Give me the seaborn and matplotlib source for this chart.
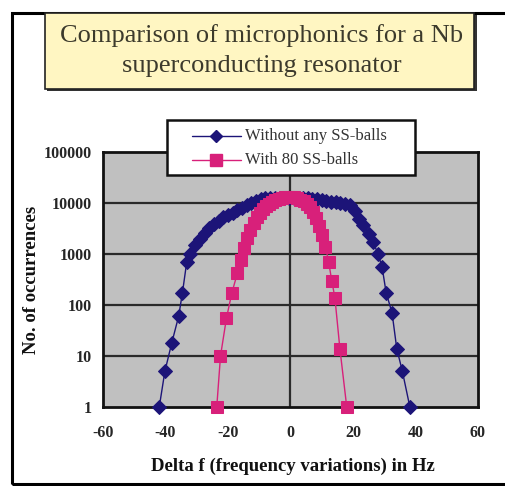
import matplotlib
matplotlib.use("Agg")
import matplotlib.pyplot as plt
import seaborn as sns
import pandas as pd
from matplotlib.patches import Rectangle
from matplotlib.lines import Line2D

# ---------------- data ----------------
title_lines = ["Comparison of microphonics for a Nb", "superconducting resonator"]
x_label = "Delta f (frequency variations) in Hz"
y_label = "No. of occurrences"
series_names = ["Without any SS-balls", "With 80 SS-balls"]

without_df = [-42.0, -40.2, -38.0, -35.8, -34.6, -33.2, -32.0, -30.5, -29.0, -27.5,
              -26.0, -24.5, -23.0, -21.5, -20.0, -18.5, -17.0, -15.5, -14.0, -12.5,
              -11.0, -9.5, -8.0, -6.5, -5.0, -3.5, -2.0, -0.5, 1.0, 2.5, 4.0, 5.5,
              7.0, 8.5, 10.0, 11.5, 13.0, 14.5, 16.0, 17.5, 19.0, 20.5, 22.0, 23.3,
              25.0, 26.5, 28.0, 29.3, 30.6, 32.5, 34.0, 35.8, 38.2]
without_n = [1, 5, 18, 60, 170, 700, 1000, 1500, 2000, 2600,
             3200, 3900, 4500, 5200, 5800, 6500, 7300, 8100, 9000, 10000,
             11000, 12000, 12500, 12800, 12800, 12800, 12800, 12800, 12800, 12800, 12600, 12400,
             12200, 12000, 11500, 11000, 10700, 10300, 10000, 9700, 9000, 7000, 4800, 3700,
             2500, 1700, 1000, 560, 175, 70, 14, 5, 1]

with_df = [-23.6, -22.4, -20.5, -18.8, -17.0, -15.8, -14.8, -13.8, -12.8, -11.8,
           -10.8, -9.8, -8.8, -7.8, -6.8, -5.8, -4.8, -3.8, -2.8, -1.8, -0.8, 0.2,
           1.2, 2.2, 3.2, 4.2, 5.2, 6.2, 7.2, 8.2, 9.2, 10.2, 11.2, 12.2, 13.2,
           14.2, 15.8, 18.0]
with_n = [1, 10, 55, 170, 420, 750, 1300, 2100, 3000, 4100,
          5200, 6400, 7600, 8700, 9700, 10600, 11400, 12000, 12500, 12900, 13100, 13100,
          12900, 12400, 11700, 10800, 9600, 8200, 6600, 5000, 3600, 2400, 1400, 700, 300,
          140, 14, 1]

x_ticks = [-60, -40, -20, 0, 20, 40, 60]
y_ticks = [1, 10, 100, 1000, 10000, 100000]
y_tick_labels = ["1", "10", "100", "1000", "10000", "100000"]

# ---------------- styling ----------------
sns.set_style("white")
plt.rcParams["font.family"] = ["Liberation Serif", "DejaVu Serif"]

BLUE = "#1c1478"
PINK = "#d8207a"

W, H = 506, 486
fig = plt.figure(figsize=(W / 100, H / 100), dpi=100)
fig.patch.set_facecolor("white")

def fx(px):
    return px / W

def fy(py):
    return 1 - py / H

# outer frame
fig.add_artist(Rectangle((fx(12), fy(484)), fx(520) - fx(12), fy(13) - fy(484),
                         transform=fig.transFigure, fill=False, edgecolor="black", lw=2.2))

# title box (shadow + box)
fig.add_artist(Rectangle((fx(47), fy(91)), fx(477) - fx(47), fy(15) - fy(91),
                         transform=fig.transFigure, facecolor="#333333", edgecolor="none", zorder=3))
fig.add_artist(Rectangle((fx(45), fy(89)), fx(474) - fx(45), fy(13) - fy(89),
                         transform=fig.transFigure, facecolor="#FFF6C2", edgecolor="#222222",
                         lw=1.2, zorder=4))
for line, py in zip(title_lines, [36, 66]):
    fig.text(fx(262), fy(py), line, ha="center", va="center", fontsize=19,
             color="#3c3a2c", zorder=5)

ax = fig.add_axes([fx(103), fy(407), fx(478) - fx(103), fy(152) - fy(407)])
ax.set_facecolor("#C0C0C0")

d1 = pd.DataFrame({"df": without_df, "n": without_n})
d2 = pd.DataFrame({"df": with_df, "n": with_n})

sns.lineplot(data=d1, x="df", y="n", ax=ax, color=BLUE, lw=1.0, marker="D",
             markersize=7, markeredgecolor=BLUE, sort=False, zorder=4, clip_on=False)
sns.lineplot(data=d2, x="df", y="n", ax=ax, color=PINK, lw=1.0, marker="s",
             markersize=8.5, markeredgecolor=PINK, sort=False, zorder=5, clip_on=False)

ax.set_yscale("log")
ax.set_xlim(-60, 60)
ax.set_ylim(1, 100000)
ax.set_xticks(x_ticks)
ax.set_xticklabels([str(v) for v in x_ticks])
ax.set_yticks(y_ticks)
ax.set_yticklabels(y_tick_labels)
ax.yaxis.set_minor_locator(matplotlib.ticker.NullLocator())
ax.grid(False)
for yv in y_ticks[1:-1]:
    ax.axhline(yv, color="#2a2a2a", lw=1.6, zorder=1)
ax.axvline(0, color="#2a2a2a", lw=1.6, zorder=1)

for s in ax.spines.values():
    s.set_color("#111111")
    s.set_linewidth(2.0)
    s.set_visible(True)

ax.tick_params(axis="x", direction="out", length=5, width=2, color="#111111", pad=8)
ax.tick_params(axis="y", direction="out", length=4, width=1.5, color="#111111", pad=4)
for lab in ax.get_xticklabels() + ax.get_yticklabels():
    lab.set_fontweight("bold")
    lab.set_fontsize(11.5)
ax.set_xlabel("")
ax.set_ylabel("")

fig.text(fx(293), fy(466), x_label, ha="center", va="center", fontsize=13.5,
         fontweight="bold", color="#111111")
fig.text(fx(32), fy(280), y_label, ha="center", va="center", fontsize=13.5,
         fontweight="bold", rotation=90, color="#111111")

# legend box drawn in figure coordinates
fig.add_artist(Rectangle((fx(167), fy(175)), fx(415) - fx(167), fy(120) - fy(175),
                         transform=fig.transFigure, facecolor="white", edgecolor="#111111",
                         lw=1.8, zorder=10))
legend_rows = [(136, BLUE, "D", 6.5), (160, PINK, "s", 8)]
for (py, col, mk, ms), name in zip(legend_rows, series_names):
    fig.add_artist(Line2D([fx(192), fx(241)], [fy(py), fy(py)], transform=fig.transFigure,
                          color=col, lw=1.0, zorder=11))
    fig.add_artist(Line2D([fx(216.5)], [fy(py)], transform=fig.transFigure, color=col,
                          marker=mk, markersize=ms, markeredgecolor=col, zorder=12))
    fig.text(fx(245), fy(py), name, ha="left", va="center", fontsize=12,
             color="#333333", zorder=12)

fig.savefig("out.png", dpi=100, facecolor="white")
